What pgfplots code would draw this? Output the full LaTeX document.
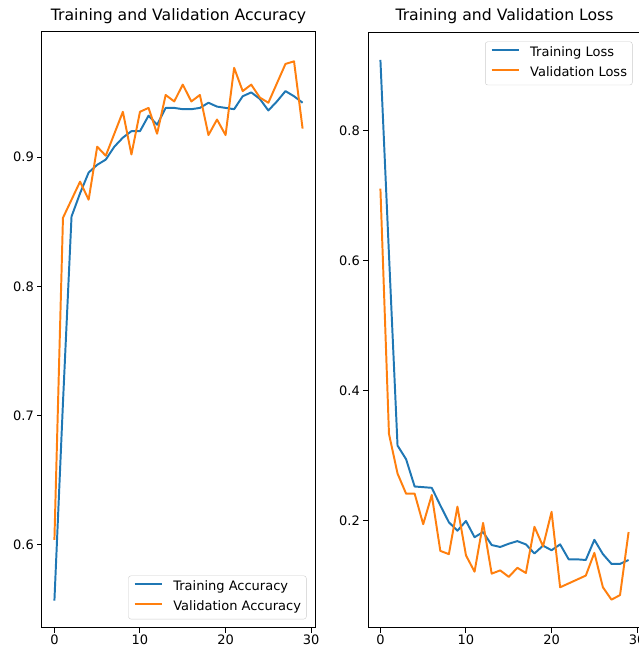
\documentclass[border=0pt]{standalone}
\usepackage{fontspec}
\setmainfont{DejaVu Sans}
\usepackage{pgfplots}
\pgfplotsset{compat=1.18}
\definecolor{mblue}{HTML}{1F77B4}
\definecolor{morange}{HTML}{FF7F0E}
\pgfplotsset{
 mystyle/.style={
  scale only axis, width=273pt, height=596pt,
  axis line style={line width=1pt, black},
  tick align=outside, tick pos=left, major tick length=4.6pt,
  tick style={line width=1pt, black},
  xmin=-1.45, xmax=30.45, xtick={0,10,20,30},
  ticklabel style={font=\fontsize{13}{15}\selectfont},
  xticklabel style={yshift=1.2pt},
  /pgf/number format/assume math mode=true,
  title style={font=\fontsize{15.67}{18}\selectfont, at={(0.5,1)}, anchor=base, yshift=5.3pt, inner sep=0pt},
  legend cell align=left,
  legend image code/.code={\draw[##1, line width=1.96pt] (0pt,3.5pt) -- (27.6pt,3.5pt);},
  legend style={font=\fontsize{13}{15}\selectfont, draw=black!20, rounded corners=2.5pt, fill=white, fill opacity=0.8, text opacity=1, inner xsep=5.3pt, inner ysep=5.5pt, row sep=7.7pt, column sep=10pt, nodes={inner sep=0pt, text height=9.5pt, text depth=2.8pt}},
  every axis plot/.append style={line width=1.96pt, line join=round},
 }
}
\begin{document}
\begin{tikzpicture}
\begin{axis}[mystyle, at={(42pt,18pt)}, anchor=south west,
  ymin=0.5358, ymax=0.9967, ytick={0.6,0.7,0.8,0.9},
  title={Training and Validation Accuracy},
  legend style={at={(1,0)}, anchor=south east, xshift=-8.5pt, yshift=8.7pt}]
\addplot[mblue] coordinates {(0,0.557)(1,0.710)(2,0.854)(3,0.872)(4,0.888)(5,0.894)(6,0.898)(7,0.908)(8,0.915)(9,0.920)(10,0.920)(11,0.932)(12,0.925)(13,0.938)(14,0.938)(15,0.937)(16,0.937)(17,0.938)(18,0.942)(19,0.939)(20,0.938)(21,0.937)(22,0.947)(23,0.950)(24,0.945)(25,0.936)(26,0.943)(27,0.951)(28,0.947)(29,0.942)};
\addlegendentry{Training Accuracy}
\addplot[morange] coordinates {(0,0.604)(1,0.853)(2,0.867)(3,0.881)(4,0.867)(5,0.908)(6,0.901)(7,0.918)(8,0.935)(9,0.902)(10,0.935)(11,0.938)(12,0.918)(13,0.948)(14,0.943)(15,0.956)(16,0.943)(17,0.948)(18,0.917)(19,0.929)(20,0.917)(21,0.969)(22,0.951)(23,0.956)(24,0.946)(25,0.942)(26,0.957)(27,0.972)(28,0.974)(29,0.922)};
\addlegendentry{Validation Accuracy}
\end{axis}
\begin{axis}[mystyle, at={(368pt,18pt)}, anchor=south west,
  ymin=0.0354, ymax=0.952, ytick={0.2,0.4,0.6,0.8},
  title={Training and Validation Loss},
  legend style={at={(1,1)}, anchor=north east, xshift=-8.5pt, yshift=-9.5pt}]
\addplot[mblue] coordinates {(0,0.909)(1,0.610)(2,0.316)(3,0.295)(4,0.253)(5,0.252)(6,0.251)(7,0.224)(8,0.198)(9,0.185)(10,0.200)(11,0.175)(12,0.183)(13,0.163)(14,0.160)(15,0.165)(16,0.169)(17,0.164)(18,0.150)(19,0.162)(20,0.155)(21,0.164)(22,0.141)(23,0.141)(24,0.140)(25,0.171)(26,0.149)(27,0.134)(28,0.134)(29,0.140)};
\addlegendentry{Training Loss}
\addplot[morange] coordinates {(0,0.711)(1,0.334)(2,0.273)(3,0.242)(4,0.242)(5,0.195)(6,0.240)(7,0.154)(8,0.149)(9,0.222)(10,0.147)(11,0.122)(12,0.197)(13,0.119)(14,0.124)(15,0.114)(16,0.128)(17,0.120)(18,0.191)(19,0.161)(20,0.214)(21,0.098)(22,0.104)(23,0.110)(24,0.116)(25,0.151)(26,0.098)(27,0.079)(28,0.086)(29,0.183)};
\addlegendentry{Validation Loss}
\end{axis}
\pgfresetboundingbox
\useasboundingbox (0,0) rectangle (638pt,646pt);
\end{tikzpicture}
\end{document}
